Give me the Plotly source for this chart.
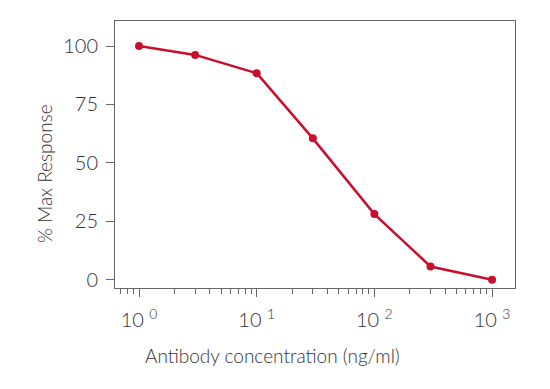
import plotly.graph_objects as go

concentration = [1, 3, 10, 30, 100, 300, 1000]
response = [100, 96.2, 88.4, 60.5, 28.1, 5.7, 0]
x_tick_vals = [1, 10, 100, 1000]
x_tick_text = ["10 <sup>0</sup>", "10 <sup>1</sup>", "10 <sup>2</sup>", "10 <sup>3</sup>"]
x_minor_vals = [0.7, 0.8, 0.9, 2, 3, 4, 5, 6, 7, 8, 9, 20, 30, 40, 50, 60, 70, 80, 90,
                200, 300, 400, 500, 600, 700, 800, 900]
y_tick_vals = [0, 25, 50, 75, 100]
x_title = "Antibody concentration (ng/ml)"
y_title = "% Max Response"

red = "#c8102e"
grey = "#666666"
text_color = "#333333"
font_family = "Lato, 'Open Sans', sans-serif"

fig = go.Figure()
fig.add_trace(go.Scatter(
    x=concentration, y=response, mode="lines+markers",
    line=dict(color=red, width=2.5),
    marker=dict(color=red, size=8),
    showlegend=False,
))

fig.update_layout(
    width=550, height=389,
    margin=dict(l=107, r=43, t=13, b=109),
    paper_bgcolor="white", plot_bgcolor="white",
    font=dict(family=font_family, color=text_color, size=19, weight=300),
    xaxis=dict(
        type="log", range=[-0.204, 3.195],
        tickvals=x_tick_vals, ticktext=x_tick_text,
        ticks="outside", ticklen=8, tickcolor=grey, tickwidth=1,
        minor=dict(tickvals=x_minor_vals, ticks="outside", ticklen=5, tickcolor=grey, tickwidth=1),
        showline=True, linecolor=grey, linewidth=1, mirror=True,
        showgrid=False, zeroline=False,
        tickfont=dict(size=20, weight=300, color=text_color),
        ticklabelstandoff=6,
    ),
    yaxis=dict(
        range=[-3.5, 110.7],
        tickvals=y_tick_vals,
        ticks="outside", ticklen=8, tickcolor=grey, tickwidth=1,
        showline=True, linecolor=grey, linewidth=1, mirror=True,
        showgrid=False, zeroline=False,
        tickfont=dict(size=20, weight=300, color=text_color),
        ticklabelstandoff=4,
    ),
    annotations=[
        dict(text=x_title, xref="paper", yref="paper", x=0.3925, y=-0.251,
             xanchor="center", yanchor="middle", showarrow=False,
             font=dict(size=19, weight=300, color=text_color)),
        dict(text=y_title, xref="paper", yref="paper", x=-0.175, y=0.427,
             xanchor="center", yanchor="middle", textangle=-90, showarrow=False,
             font=dict(size=19, weight=300, color=text_color)),
    ],
)

fig.write_html("out.html")
